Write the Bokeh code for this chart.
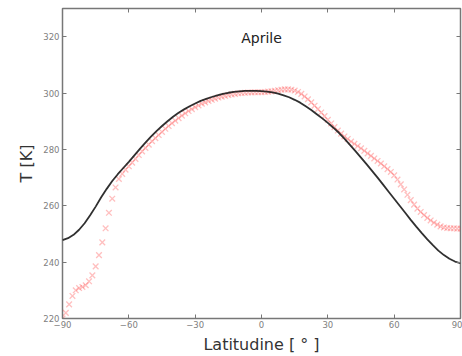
from bokeh.plotting import figure
from bokeh.models import FixedTicker, Label, LinearAxis, Range1d
from bokeh.embed import file_html
from bokeh.resources import INLINE

# Model (black line), every 2.5 degrees
model_lat = [-90, -87.5, -85, -82.5, -80, -77.5, -75, -72.5, -70, -67.5, -65, -62.5, -60,
             -57.5, -55, -52.5, -50, -47.5, -45, -42.5, -40, -37.5, -35, -32.5, -30,
             -27.5, -25, -22.5, -20, -17.5, -15, -12.5, -10, -7.5, -5, -2.5, 0, 2.5, 5,
             7.5, 10, 12.5, 15, 17.5, 20, 22.5, 25, 27.5, 30, 32.5, 35, 37.5, 40, 42.5,
             45, 47.5, 50, 52.5, 55, 57.5, 60, 62.5, 65, 67.5, 70, 72.5, 75, 77.5, 80,
             82.5, 85, 87.5, 90]
model_T = [247.8, 248.5, 249.7, 251.5, 253.8, 256.6, 259.7, 263.0, 266.0, 268.8, 271.2,
           273.4, 275.6, 277.9, 280.2, 282.4, 284.5, 286.5, 288.3, 290.0, 291.6, 293.0,
           294.2, 295.3, 296.3, 297.2, 297.9, 298.6, 299.2, 299.7, 300.1, 300.4, 300.6,
           300.8, 300.8, 300.8, 300.7, 300.5, 300.2, 299.8, 299.2, 298.5, 297.6, 296.6,
           295.3, 294.0, 292.5, 291.0, 289.4, 287.7, 285.9, 283.8, 281.6, 279.4, 277.1,
           274.8, 272.4, 270.0, 267.5, 265.0, 262.5, 260.0, 257.5, 255.0, 252.6, 250.3,
           248.1, 246.0, 244.1, 242.5, 241.2, 240.2, 239.6]

# Observations (red crosses), every 1.5 degrees
obs_lat = [-90.0, -88.5, -87.0, -85.5, -84.0, -82.5, -81.0, -79.5, -78.0, -76.5, -75.0,
           -73.5, -72.0, -70.5, -69.0, -67.5, -66.0, -64.5, -63.0, -61.5, -60.0, -58.5,
           -57.0, -55.5, -54.0, -52.5, -51.0, -49.5, -48.0, -46.5, -45.0, -43.5, -42.0,
           -40.5, -39.0, -37.5, -36.0, -34.5, -33.0, -31.5, -30.0, -28.5, -27.0, -25.5,
           -24.0, -22.5, -21.0, -19.5, -18.0, -16.5, -15.0, -13.5, -12.0, -10.5, -9.0,
           -7.5, -6.0, -4.5, -3.0, -1.5, 0.0, 1.5, 3.0, 4.5, 6.0, 7.5, 9.0, 10.5, 12.0,
           13.5, 15.0, 16.5, 18.0, 19.5, 21.0, 22.5, 24.0, 25.5, 27.0, 28.5, 30.0, 31.5,
           33.0, 34.5, 36.0, 37.5, 39.0, 40.5, 42.0, 43.5, 45.0, 46.5, 48.0, 49.5, 51.0,
           52.5, 54.0, 55.5, 57.0, 58.5, 60.0, 61.5, 63.0, 64.5, 66.0, 67.5, 69.0, 70.5,
           72.0, 73.5, 75.0, 76.5, 78.0, 79.5, 81.0, 82.5, 84.0, 85.5, 87.0, 88.5, 90.0]
obs_T = [220.0, 222.0, 225.0, 228.0, 230.0, 230.8, 231.2, 231.8, 233.2, 235.3, 238.5,
         242.5, 247.0, 252.0, 257.5, 262.5, 266.5, 269.5, 271.3, 272.8, 274.0, 275.3,
         276.6, 278.0, 279.3, 280.5, 281.7, 282.9, 284.0, 285.1, 286.2, 287.3, 288.3,
         289.3, 290.2, 291.1, 292.0, 292.8, 293.6, 294.3, 295.0, 295.6, 296.2, 296.7,
         297.2, 297.6, 298.0, 298.4, 298.7, 299.0, 299.3, 299.5, 299.7, 299.9, 300.0,
         300.1, 300.2, 300.2, 300.3, 300.3, 300.3, 300.4, 300.5, 300.6, 300.8, 301.0,
         301.2, 301.3, 301.3, 301.2, 300.9, 300.4, 299.7, 298.8, 297.8, 296.7, 295.5,
         294.3, 293.1, 291.8, 290.5, 289.2, 287.9, 286.7, 285.6, 284.6, 283.7, 282.8,
         282.0, 281.2, 280.4, 279.5, 278.6, 277.7, 276.8, 275.9, 275.0, 274.0, 273.0,
         272.0, 270.8, 269.3, 267.6, 265.8, 263.9, 262.0, 260.4, 259.0, 257.8, 256.7,
         255.7, 254.8, 254.0, 253.3, 252.7, 252.3, 252.1, 252.0, 252.0, 251.9, 251.9]

x_ticks = [-90, -60, -30, 0, 30, 60, 90]
y_ticks = [220, 240, 260, 280, 300, 320]
title_text = "Aprile"
x_label = "Latitudine [ ° ]"
y_label = "T [K]"

FONT = "DejaVu Sans"

p = figure(width=462, height=356, output_backend="svg", toolbar_location=None,
           x_range=Range1d(-90, 90), y_range=Range1d(220, 330),
           min_border_left=62, min_border_right=2, min_border_top=8, min_border_bottom=38)
p.xgrid.visible = False
p.ygrid.visible = False
p.outline_line_color = "#777777"
p.outline_line_width = 1.5
p.background_fill_color = "white"
p.border_fill_color = "white"

p.scatter(obs_lat, obs_T, marker="x", size=8, line_color="#ff2a2a", line_alpha=0.3,
          line_width=1.3)
p.line(model_lat, model_T, line_color="#1a1a1a", line_width=1.8, line_alpha=0.9)

for ax in (p.xaxis[0], p.yaxis[0]):
    ax.axis_line_color = None
    ax.major_tick_in = 4
    ax.major_tick_out = 0
    ax.minor_tick_line_color = None
    ax.major_tick_line_color = "#777777"
    ax.major_label_text_font = FONT
    ax.major_label_text_font_size = "8.5px"
    ax.major_label_text_color = "#808080"
    ax.axis_label_text_font = FONT
    ax.axis_label_text_font_size = "16px"
    ax.axis_label_text_font_style = "normal"
    ax.axis_label_text_color = "#333333"

p.xaxis[0].ticker = FixedTicker(ticks=x_ticks)
p.yaxis[0].ticker = FixedTicker(ticks=y_ticks)
p.xaxis[0].axis_label = x_label
p.yaxis[0].axis_label = y_label
p.xaxis[0].major_label_standoff = 2
p.yaxis[0].major_label_standoff = 3
p.xaxis[0].axis_label_standoff = 4
p.yaxis[0].axis_label_standoff = 4

for loc, tick in (("above", x_ticks), ("right", y_ticks)):
    ax = LinearAxis(ticker=FixedTicker(ticks=tick))
    ax.axis_line_color = None
    ax.major_tick_in = 4
    ax.major_tick_out = 0
    ax.minor_tick_line_color = None
    ax.major_tick_line_color = "#777777"
    ax.major_label_overrides = {t: "" for t in tick}
    ax.major_label_standoff = 0
    p.add_layout(ax, loc)

p.add_layout(Label(x=0, y=319.5, text=title_text, text_align="center",
                   text_baseline="middle", text_font=FONT, text_font_size="14px",
                   text_color="#222222"))

open("out.html", "w").write(file_html(p, INLINE))
